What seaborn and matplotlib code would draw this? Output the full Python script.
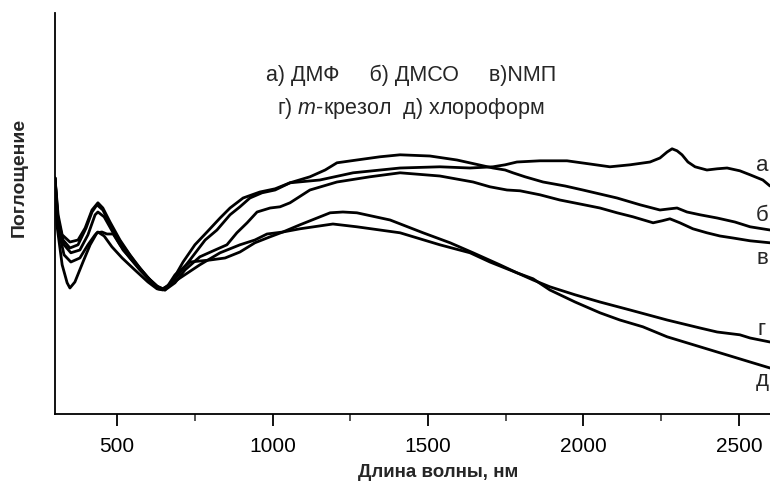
import matplotlib
matplotlib.use("Agg")
import matplotlib.pyplot as plt
import seaborn as sns
import pandas as pd
from matplotlib.ticker import MultipleLocator

# Absorption spectra of the polymer in different solvents (arbitrary units)
wl_dmf = [300, 310, 323, 348, 374, 397, 419, 438, 454, 477, 509, 541, 573, 606, 628, 647,
          670, 712, 750, 789, 831, 863, 905, 959, 1008, 1056, 1152, 1259, 1410, 1538, 1635,
          1709, 1748, 1786, 1860, 1947, 2021, 2085, 2150, 2214, 2246, 2269, 2285, 2301, 2317,
          2336, 2359, 2397, 2430, 2462, 2503, 2536, 2577, 2600]
abs_dmf = [0.585, 0.493, 0.443, 0.425, 0.430, 0.460, 0.505, 0.523, 0.510, 0.475, 0.430, 0.393,
           0.360, 0.330, 0.313, 0.308, 0.318, 0.375, 0.418, 0.450, 0.485, 0.510, 0.535, 0.550,
           0.558, 0.573, 0.580, 0.598, 0.610, 0.613, 0.610, 0.613, 0.618, 0.625, 0.628, 0.628,
           0.620, 0.613, 0.618, 0.625, 0.635, 0.650, 0.658, 0.653, 0.643, 0.625, 0.613, 0.605,
           0.608, 0.610, 0.603, 0.593, 0.580, 0.565]

wl_dmso = [300, 310, 326, 348, 374, 400, 419, 435, 454, 483, 516, 557, 596, 628, 647, 676,
           734, 783, 821, 863, 895, 927, 966, 1008, 1056, 1120, 1169, 1207, 1271, 1345, 1410,
           1506, 1593, 1651, 1709, 1748, 1773, 1812, 1870, 1941, 1998, 2053, 2108, 2182, 2246,
           2278, 2301, 2333, 2375, 2430, 2487, 2536, 2600]
abs_dmso = [0.585, 0.480, 0.430, 0.410, 0.418, 0.460, 0.500, 0.518, 0.505, 0.460, 0.418, 0.375,
            0.338, 0.315, 0.308, 0.323, 0.380, 0.430, 0.455, 0.493, 0.513, 0.535, 0.548, 0.555,
            0.573, 0.588, 0.605, 0.623, 0.630, 0.638, 0.643, 0.640, 0.630, 0.620, 0.610, 0.605,
            0.598, 0.588, 0.575, 0.565, 0.555, 0.545, 0.535, 0.518, 0.505, 0.508, 0.510, 0.500,
            0.493, 0.485, 0.475, 0.463, 0.455]

wl_nmp = [300, 310, 329, 351, 380, 406, 429, 438, 458, 487, 519, 564, 606, 635, 654, 686,
          718, 766, 815, 853, 885, 918, 950, 992, 1024, 1056, 1120, 1207, 1313, 1410, 1538,
          1645, 1699, 1754, 1796, 1860, 1924, 1989, 2053, 2108, 2159, 2224, 2253, 2278, 2310,
          2352, 2397, 2439, 2481, 2536, 2600]
abs_nmp = [0.585, 0.468, 0.418, 0.398, 0.405, 0.443, 0.493, 0.500, 0.488, 0.448, 0.405, 0.365,
           0.330, 0.310, 0.305, 0.323, 0.355, 0.388, 0.405, 0.418, 0.448, 0.473, 0.500, 0.510,
           0.513, 0.523, 0.555, 0.575, 0.588, 0.598, 0.590, 0.575, 0.563, 0.555, 0.553, 0.543,
           0.530, 0.520, 0.510, 0.498, 0.488, 0.473, 0.478, 0.483, 0.473, 0.458, 0.448, 0.440,
           0.435, 0.428, 0.423]

wl_cresol = [300, 310, 329, 351, 380, 406, 429, 438, 458, 483, 516, 557, 599, 628, 647, 702,
             766, 831, 895, 943, 982, 1033, 1088, 1194, 1271, 1410, 1538, 1635, 1699, 1786,
             1838, 1892, 1973, 2053, 2150, 2269, 2375, 2430, 2503, 2536, 2600]
abs_cresol = [0.585, 0.460, 0.393, 0.375, 0.385, 0.418, 0.443, 0.450, 0.440, 0.413, 0.385,
              0.355, 0.325, 0.308, 0.305, 0.335, 0.368, 0.398, 0.418, 0.430, 0.445, 0.450,
              0.458, 0.470, 0.463, 0.448, 0.418, 0.398, 0.375, 0.348, 0.330, 0.313, 0.293,
              0.275, 0.255, 0.230, 0.210, 0.200, 0.193, 0.185, 0.175]

wl_chcl3 = [300, 306, 323, 339, 348, 364, 390, 413, 435, 451, 467, 487, 509, 541, 573, 606,
            631, 654, 686, 734, 799, 847, 895, 943, 992, 1033, 1088, 1185, 1226, 1271, 1378,
            1484, 1571, 1645, 1731, 1786, 1838, 1892, 1973, 2053, 2117, 2191, 2269, 2375,
            2481, 2536, 2600]
abs_chcl3 = [0.585, 0.468, 0.368, 0.323, 0.310, 0.325, 0.375, 0.418, 0.448, 0.450, 0.445,
             0.445, 0.418, 0.385, 0.355, 0.328, 0.308, 0.305, 0.343, 0.375, 0.380, 0.385,
             0.400, 0.423, 0.438, 0.450, 0.468, 0.498, 0.500, 0.498, 0.480, 0.448, 0.423,
             0.398, 0.368, 0.348, 0.333, 0.305, 0.275, 0.248, 0.230, 0.213, 0.188, 0.163,
             0.138, 0.125, 0.110]

curve_letters = ["а", "б", "в", "г", "д"]
x_ticks = [500, 1000, 1500, 2000, 2500]

frames = []
for letter, wl, ab in zip(curve_letters,
                          [wl_dmf, wl_dmso, wl_nmp, wl_cresol, wl_chcl3],
                          [abs_dmf, abs_dmso, abs_nmp, abs_cresol, abs_chcl3]):
    frames.append(pd.DataFrame({"wl": wl, "absorb": ab, "curve": letter}))
df = pd.concat(frames, ignore_index=True)

sns.set_style("ticks")
plt.rcParams["font.family"] = ["Liberation Sans", "DejaVu Sans"]
plt.rcParams["mathtext.fontset"] = "custom"
plt.rcParams["mathtext.it"] = "Liberation Sans:italic"
plt.rcParams["mathtext.rm"] = "Liberation Sans"

fig = plt.figure(figsize=(7.7, 4.88), dpi=100)
ax = fig.add_axes([55 / 770, 74 / 488, 715 / 770, 401 / 488])

sns.lineplot(data=df, x="wl", y="absorb", units="curve", estimator=None, sort=False,
             color="black", linewidth=2.0, ax=ax)

ax.set_xlim(300, 2600)
ax.set_ylim(-0.005, 0.9975)
ax.set_xticks(x_ticks)
ax.xaxis.set_minor_locator(MultipleLocator(250))
ax.set_yticks([])
for side in ("top", "right"):
    ax.spines[side].set_visible(False)
for side in ("left", "bottom"):
    ax.spines[side].set_linewidth(1.3)
    ax.spines[side].set_color("black")
ax.tick_params(axis="x", which="major", length=8.5, width=1.3, direction="out",
               labelsize=15, pad=8, colors="black")
ax.tick_params(axis="x", which="minor", length=5, width=1.1, direction="out")

ax.set_xlabel("Длина волны, нм", fontsize=13.5, fontweight="bold")
ax.xaxis.set_label_coords(0.536, -0.125)
ax.set_ylabel("Поглощение", fontsize=14, fontweight="bold")
ax.yaxis.set_label_coords(-0.038, 0.59)

ax.text(0.498, 0.845, "а) ДМФ     б) ДМСО     в)NМП", transform=ax.transAxes,
        ha="center", va="center", fontsize=15.5)
ax.text(0.498, 0.763, "г) $m$-крезол  д) хлороформ", transform=ax.transAxes,
        ha="center", va="center", fontsize=15.5)

# curve letters next to the right ends of the spectra
label_y = [0.6025, 0.4775, 0.37, 0.1925, 0.065]
for letter, y in zip(curve_letters, label_y):
    ax.text(2574, y, letter, ha="center", va="baseline", fontsize=16, clip_on=False)

fig.savefig("out.png", dpi=100)
